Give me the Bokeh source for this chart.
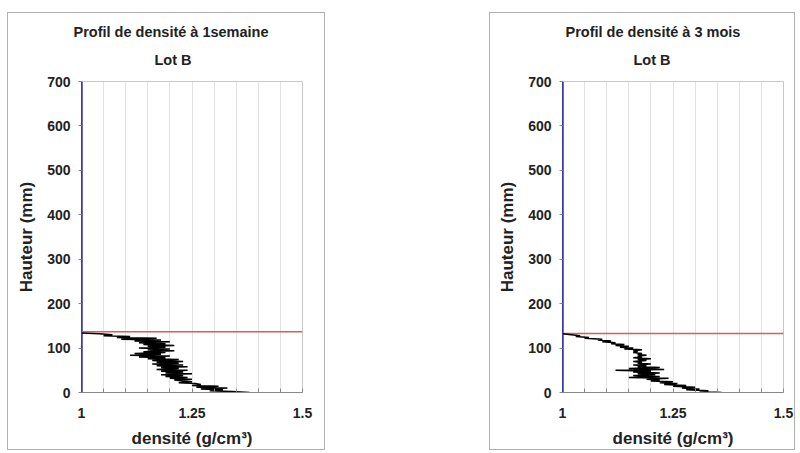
from bokeh.plotting import figure
from bokeh.layouts import row
from bokeh.models import Spacer, Title, FixedTicker, Range1d
from bokeh.embed import file_html
from bokeh.resources import INLINE

# ---- data ----
titles = ["Profil de densité à 1semaine", "Profil de densité à 3 mois"]
subtitle = "Lot B"
x_label = "densité (g/cm³)"
y_label = "Hauteur (mm)"
x_major = [1, 1.25, 1.5]
x_minor = [1.05, 1.1, 1.15, 1.2, 1.3, 1.35, 1.4, 1.45]
y_ticks = [0, 100, 200, 300, 400, 500, 600, 700]

h_week = [134, 132, 130, 128, 126, 124, 122, 120, 118, 116, 114, 112, 110, 108, 106, 104,
          102, 100, 98, 96, 94, 92, 90, 88, 86, 84, 82, 80, 78, 76, 74, 72, 70, 68, 66, 64,
          62, 60, 58, 56, 54, 52, 50, 48, 46, 44, 42, 40, 38, 36, 34, 32, 30, 28, 26, 24,
          22, 20, 18, 16, 14, 12, 10, 8, 6, 4, 2, 0]
d_week = [1.00, 1.04, 1.07, 1.05, 1.11, 1.08, 1.17, 1.09, 1.18, 1.12, 1.20, 1.13, 1.19, 1.14,
          1.21, 1.15, 1.19, 1.13, 1.20, 1.15, 1.21, 1.14, 1.19, 1.12, 1.18, 1.11, 1.20, 1.13,
          1.19, 1.15, 1.22, 1.16, 1.23, 1.17, 1.22, 1.16, 1.23, 1.17, 1.24, 1.18, 1.22, 1.17,
          1.24, 1.18, 1.23, 1.19, 1.25, 1.18, 1.23, 1.19, 1.24, 1.20, 1.25, 1.21, 1.23, 1.25,
          1.22, 1.26, 1.27, 1.25, 1.31, 1.26, 1.33, 1.27, 1.32, 1.29, 1.34, 1.38]
limit_week = 137

h_3m = [132, 130, 128, 126, 124, 122, 120, 118, 116, 114, 112, 110, 108, 106, 104, 102, 100,
        98, 96, 94, 92, 90, 88, 86, 84, 82, 80, 78, 76, 74, 72, 70, 68, 66, 64, 62, 60, 58,
        56, 54, 52, 50, 48, 46, 44, 42, 40, 38, 36, 34, 32, 30, 28, 26, 24, 22, 20, 18, 16,
        14, 12, 10, 8, 6, 4, 2, 0]
d_3m = [1.00, 1.02, 1.04, 1.03, 1.06, 1.05, 1.09, 1.08, 1.11, 1.09, 1.12, 1.11, 1.14, 1.12,
        1.15, 1.13, 1.16, 1.14, 1.18, 1.16, 1.17, 1.16, 1.18, 1.17, 1.19, 1.17, 1.18, 1.16,
        1.20, 1.17, 1.19, 1.16, 1.18, 1.17, 1.20, 1.16, 1.19, 1.17, 1.22, 1.15, 1.23, 1.12,
        1.20, 1.16, 1.22, 1.17, 1.21, 1.16, 1.22, 1.15, 1.24, 1.19, 1.22, 1.20, 1.25, 1.22,
        1.26, 1.23, 1.28, 1.25, 1.30, 1.27, 1.31, 1.28, 1.33, 1.31, 1.36]
limit_3m = 133

FONT = "Liberation Sans"


def make(title, h, d, limit, width, bl, br, ml, off_main, off_sub):
    p = figure(width=width, height=438, output_backend="svg", toolbar_location=None,
               x_range=Range1d(1, 1.5), y_range=Range1d(0, 700),
               min_border_left=bl, min_border_right=br, min_border_top=68, min_border_bottom=59,
               margin=(12, 0, 0, ml), styles={"border": "1px solid #b0b0b0"})
    p.title = None
    p.add_layout(Title(text=subtitle, align="left", offset=off_sub, text_font=FONT,
                       text_font_size="14.5px", text_font_style="bold",
                       text_color="#222222", standoff=28), "above")
    p.add_layout(Title(text=title, align="left", offset=off_main, text_font=FONT,
                       text_font_size="14.5px", text_font_style="bold",
                       text_color="#222222", standoff=-8), "above")
    p.background_fill_color = "white"
    p.border_fill_color = "white"
    p.outline_line_color = "#c8c8c8"

    p.xaxis.ticker = FixedTicker(ticks=x_major, minor_ticks=x_minor)
    p.yaxis.ticker = FixedTicker(ticks=y_ticks)
    p.xgrid.grid_line_color = "#e2e2e2"
    p.xgrid.minor_grid_line_color = "#e2e2e2"
    p.ygrid.grid_line_color = None

    for ax in (p.xaxis, p.yaxis):
        ax.major_label_text_font = FONT
        ax.major_label_text_font_style = "bold"
        ax.major_label_text_font_size = "14px"
        ax.major_label_text_color = "#222222"
        ax.axis_label_text_font = FONT
        ax.axis_label_text_font_style = "bold"
        ax.axis_label_text_font_size = "17px"
        ax.axis_label_text_color = "#222222"
    p.xaxis.axis_label = x_label
    p.yaxis.axis_label = y_label
    p.xaxis.axis_line_color = "#888888"
    p.xaxis.major_tick_line_color = "#888888"
    p.xaxis.minor_tick_line_color = "#888888"
    p.xaxis.major_tick_in = 4
    p.xaxis.major_tick_out = 0
    p.xaxis.minor_tick_in = 4
    p.xaxis.minor_tick_out = 0
    p.xaxis.major_label_standoff = 15
    p.xaxis.axis_label_standoff = 8
    p.yaxis.axis_line_color = "#3a3aa0"
    p.yaxis.major_tick_line_color = "#888888"
    p.yaxis.major_tick_out = 3
    p.yaxis.major_tick_in = 0
    p.yaxis.minor_tick_line_color = None
    p.yaxis.major_label_standoff = 8
    p.yaxis.axis_label_standoff = 8

    p.line([1, 1], [0, 700], line_color="#3a3aa0", line_width=2.5)
    p.line([1, 1.5], [limit, limit], line_color="#e05a5a", line_width=1.5)
    p.line(d, h, line_color="black", line_width=1.5)
    return p


p1 = make(titles[0], h_week, d_week, limit_week, 318, 73, 24, 7, -8, 73)
p2 = make(titles[1], h_3m, d_3m, limit_3m, 306, 72, 13, 0, 3, 71)
layout = row(p1, Spacer(width=164), p2)

open("out.html", "w").write(file_html(layout, INLINE))
